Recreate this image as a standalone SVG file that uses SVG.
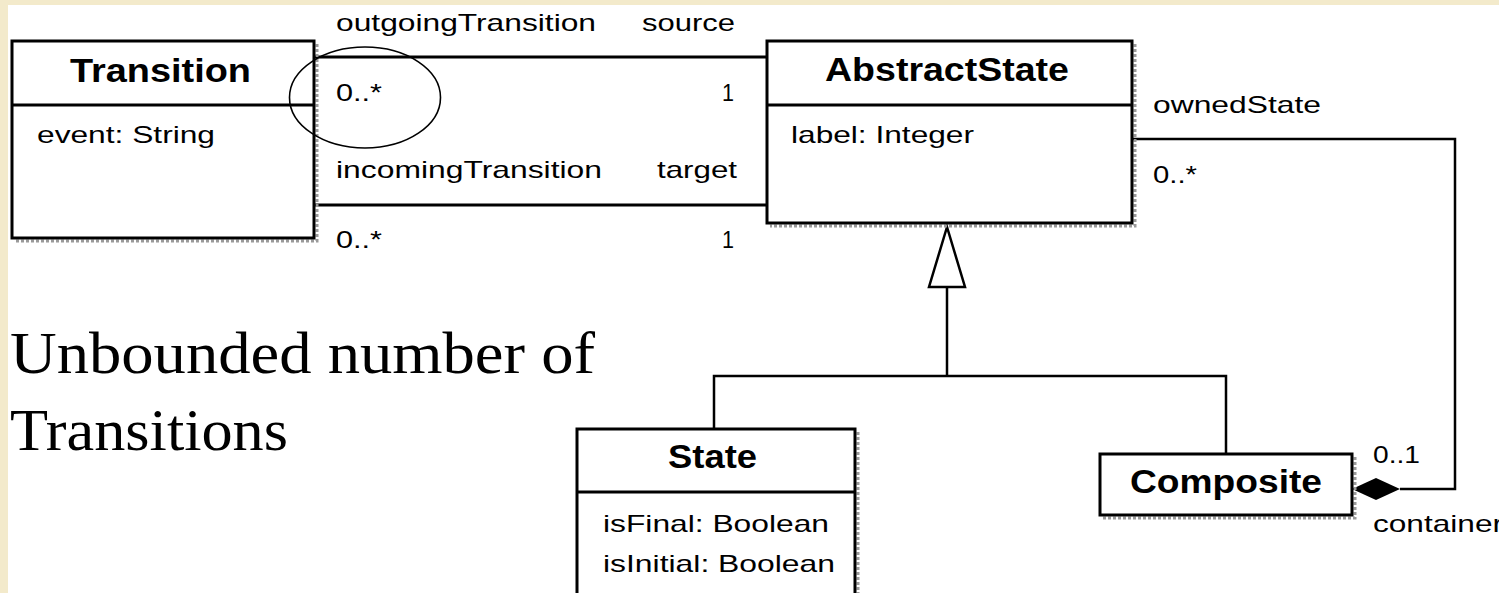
<svg xmlns="http://www.w3.org/2000/svg" width="1499" height="593" viewBox="0 0 1499 593">
<style>
.box{fill:#fff;stroke:#000;stroke-width:3}
.div{stroke:#000;stroke-width:3}
.shadow{fill:none;stroke:#9a9a9a;stroke-width:3;stroke-dasharray:3 2}
.conn{fill:none;stroke:#000;stroke-width:3}
.thin{fill:none;stroke:#000;stroke-width:2.5}
.t{font-family:"Liberation Sans",Arial,sans-serif;font-size:24px;fill:#000}
.b{font-family:"Liberation Sans",Arial,sans-serif;font-size:33px;font-weight:bold;fill:#000}
.serif{font-family:"Liberation Serif","Times New Roman",serif;font-size:60px;fill:#000}
</style>
<rect x="0" y="0" width="1499" height="593" fill="#F3EACB"/>
<rect x="8" y="5" width="1491" height="588" fill="#fff"/>

<g id="connectors">
  <line class="conn" x1="314" y1="57" x2="767" y2="57"/>
  <line class="conn" x1="314" y1="205" x2="767" y2="205"/>
  <polyline class="thin" points="1132,139 1455,139 1455,489 1400,489"/>
  <polygon points="1352,489 1376,478 1400,489 1376,500" fill="#000"/>
  <polygon points="947,227 929,287 965,287" fill="#fff" stroke="#000" stroke-width="2.5"/>
  <polyline class="thin" points="947,287 947,376"/>
  <polyline class="thin" points="714,429 714,376 1226,376 1226,454"/>
  <text class="t" x="336" y="31" textLength="260" lengthAdjust="spacingAndGlyphs">outgoingTransition</text>
  <text class="t" x="642" y="31" textLength="93" lengthAdjust="spacingAndGlyphs">source</text>
  <text class="t" x="336" y="101" textLength="46" lengthAdjust="spacingAndGlyphs">0..*</text>
  <text class="t" x="722" y="101" textLength="12" lengthAdjust="spacingAndGlyphs">1</text>
  <text class="t" x="336" y="178" textLength="266" lengthAdjust="spacingAndGlyphs">incomingTransition</text>
  <text class="t" x="657" y="178" textLength="80" lengthAdjust="spacingAndGlyphs">target</text>
  <text class="t" x="336" y="248" textLength="46" lengthAdjust="spacingAndGlyphs">0..*</text>
  <text class="t" x="722" y="248" textLength="12" lengthAdjust="spacingAndGlyphs">1</text>
  <text class="t" x="1153" y="113" textLength="168" lengthAdjust="spacingAndGlyphs">ownedState</text>
  <text class="t" x="1153" y="183" textLength="44" lengthAdjust="spacingAndGlyphs">0..*</text>
  <text class="t" x="1373" y="463" textLength="47" lengthAdjust="spacingAndGlyphs">0..1</text>
  <text class="t" x="1373" y="532" textLength="130" lengthAdjust="spacingAndGlyphs">container</text>
</g>

<g id="Transition">
  <polyline class="shadow" points="317,44 317,241 15,241"/>
  <rect class="box" x="12" y="41" width="302" height="197"/>
  <line class="div" x1="12" y1="105" x2="314" y2="105"/>
  <text class="b" x="70" y="82" textLength="181" lengthAdjust="spacingAndGlyphs">Transition</text>
  <text class="t" x="37" y="143" textLength="178" lengthAdjust="spacingAndGlyphs">event: String</text>
</g>

<g id="AbstractState">
  <polyline class="shadow" points="1135,44 1135,226 770,226"/>
  <rect class="box" x="767" y="41" width="365" height="182"/>
  <line class="div" x1="767" y1="105" x2="1132" y2="105"/>
  <text class="b" x="825" y="81" textLength="244" lengthAdjust="spacingAndGlyphs">AbstractState</text>
  <text class="t" x="791" y="143" textLength="183" lengthAdjust="spacingAndGlyphs">label: Integer</text>
</g>

<g id="State">
  <polyline class="shadow" points="858,432 858,600"/>
  <rect class="box" x="577" y="429" width="278" height="180"/>
  <line class="div" x1="577" y1="492" x2="855" y2="492"/>
  <text class="b" x="668" y="468" textLength="89" lengthAdjust="spacingAndGlyphs">State</text>
  <text class="t" x="603" y="532" textLength="226" lengthAdjust="spacingAndGlyphs">isFinal: Boolean</text>
  <text class="t" x="603" y="572" textLength="232" lengthAdjust="spacingAndGlyphs">isInitial: Boolean</text>
</g>

<g id="Composite">
  <polyline class="shadow" points="1355,457 1355,518 1103,518"/>
  <rect class="box" x="1100" y="454" width="252" height="61"/>
  <text class="b" x="1130" y="493" textLength="192" lengthAdjust="spacingAndGlyphs">Composite</text>
</g>

<g id="note">
  <ellipse cx="365" cy="97.5" rx="75.5" ry="50.5" fill="none" stroke="#000" stroke-width="1.6"/>
  <text class="serif" x="10" y="373" textLength="585" lengthAdjust="spacingAndGlyphs">Unbounded number of</text>
  <text class="serif" x="10" y="450" textLength="278" lengthAdjust="spacingAndGlyphs">Transitions</text>
</g>
</svg>
